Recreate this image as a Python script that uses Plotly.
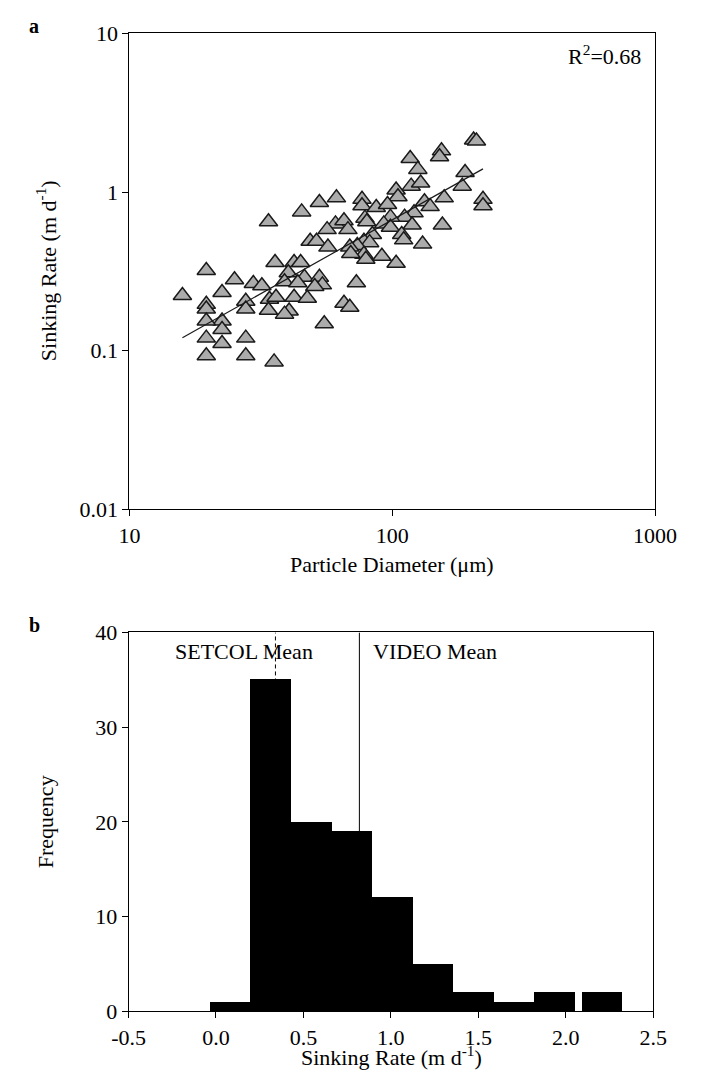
import numpy as np
import plotly.graph_objects as go

# ---------------- Data: panel a (particle diameter vs sinking rate) ----------------
diameter = [61.3, 52.8, 45.2, 33.8, 60.8, 65.5, 56.5, 48.7, 51.5, 56.9,
            35.8, 42.3, 44.8, 19.6, 40.2, 25.1, 29.6, 31.9, 15.9, 22.5,
            38.9, 46.3, 43.7, 52.8, 54.2, 50.7, 34.1, 36.1, 42.3, 47.5,
            19.6, 19.6, 27.7, 27.7, 33.8, 40.5, 38.9, 22.5, 19.6, 22.5,
            55.1, 19.6, 22.5, 27.7, 19.6, 27.7, 35.5, 203.9, 209.0, 117.0,
            153.9, 151.3, 125.1, 189.2, 118.0, 128.2, 184.6, 103.4, 105.1, 157.6,
            221.4, 221.4, 76.7, 76.7, 86.9, 95.9, 132.6, 139.3, 121.0, 111.4,
            98.4, 78.7, 80.0, 67.8, 92.8, 98.4, 119.0, 155.1, 108.6, 110.5,
            84.0, 78.0, 82.0, 73.6, 68.9, 130.4, 78.0, 79.3, 69.5, 91.3,
            103.4, 73.0, 65.5, 68.9]
sink_rate = [0.92, 0.86, 0.75, 0.65, 0.63, 0.66, 0.58, 0.49, 0.49, 0.45,
             0.36, 0.36, 0.36, 0.32, 0.31, 0.28, 0.265, 0.257, 0.223, 0.233,
             0.272, 0.29, 0.268, 0.29, 0.26, 0.254, 0.211, 0.217, 0.217, 0.214,
             0.196, 0.183, 0.205, 0.183, 0.18, 0.178, 0.17, 0.154, 0.154, 0.136,
             0.148, 0.12, 0.111, 0.12, 0.093, 0.093, 0.085, 2.13, 2.10, 1.63,
             1.82, 1.67, 1.39, 1.33, 1.09, 1.14, 1.09, 1.03, 0.935, 0.92,
             0.90, 0.82, 0.90, 0.82, 0.80, 0.835, 0.87, 0.81, 0.74, 0.695,
             0.695, 0.685, 0.65, 0.58, 0.63, 0.60, 0.62, 0.62, 0.54, 0.50,
             0.54, 0.49, 0.48, 0.46, 0.45, 0.47, 0.405, 0.377, 0.41, 0.394,
             0.356, 0.268, 0.199, 0.188]
fit_slope = 0.931       # log10(rate) = intercept + slope * log10(diameter)
fit_intercept = -2.037
r_squared = "0.68"

# ---------------- Data: panel b (histogram of sinking rate) ----------------
bin_left = [-0.038, 0.194, 0.426, 0.658, 0.890, 1.122, 1.354, 1.586, 1.818, 2.088]
bin_right = [0.194, 0.426, 0.658, 0.890, 1.122, 1.354, 1.586, 1.818, 2.050, 2.320]
bin_count = [1, 35, 20, 19, 12, 5, 2, 1, 2, 2]
setcol_mean = 0.34
video_mean = 0.82

x_ticks_a = [10, 100, 1000]
y_ticks_a = [0.01, 0.1, 1, 10]
y_ticktext_a = ["0.01", "0.1", "1", "10"]
x_ticks_b = [-0.5, 0.0, 0.5, 1.0, 1.5, 2.0, 2.5]
y_ticks_b = [0, 10, 20, 30, 40]

# ---------------- Figure ----------------
W, H = 713, 1086
FONT = "Liberation Serif, Times New Roman, serif"
FS = 22


def px(x):
    return x / W


def py(y):
    return 1 - y / H


fig = go.Figure()

fig.add_trace(go.Scatter(
    x=diameter, y=sink_rate, mode="markers",
    marker=dict(symbol="triangle-up", size=16, color="#ababab",
                line=dict(color="#1a1a1a", width=1.5)),
    xaxis="x", yaxis="y", showlegend=False))

d_min, d_max = min(diameter), max(diameter)
fit_x = np.array([d_min, d_max])
fit_y = 10 ** (fit_intercept + fit_slope * np.log10(fit_x))
fig.add_trace(go.Scatter(
    x=fit_x, y=fit_y, mode="lines", line=dict(color="#1a1a1a", width=1.2),
    xaxis="x", yaxis="y", showlegend=False))

centers = [(l + r) / 2 for l, r in zip(bin_left, bin_right)]
widths = [r - l for l, r in zip(bin_left, bin_right)]
fig.add_trace(go.Bar(
    x=centers, y=bin_count, width=widths,
    marker=dict(color="black", line=dict(width=0)),
    xaxis="x2", yaxis="y2", showlegend=False))

axis_common = dict(showline=True, linecolor="black", linewidth=1, mirror=True,
                   ticks="outside", ticklen=6, tickcolor="black", tickwidth=1,
                   showgrid=False, zeroline=False,
                   tickfont=dict(family=FONT, size=FS, color="black"))

fig.update_layout(
    width=W, height=H,
    margin=dict(l=0, r=0, t=0, b=0),
    paper_bgcolor="white", plot_bgcolor="white",
    font=dict(family=FONT, size=FS, color="black"),
    bargap=0,
    xaxis=dict(type="log", range=[1, 3], domain=[px(119), px(675)],
               tickvals=x_ticks_a, ticktext=[str(v) for v in x_ticks_a],
               anchor="y", **axis_common),
    yaxis=dict(type="log", range=[-2, 1], domain=[py(509), py(22)],
               tickvals=y_ticks_a, ticktext=y_ticktext_a,
               anchor="x", **axis_common),
    xaxis2=dict(range=[-0.5, 2.5], domain=[px(118), px(673)],
                tickvals=x_ticks_b, ticktext=[f"{v:.1f}" for v in x_ticks_b],
                anchor="y2", **axis_common),
    yaxis2=dict(range=[0, 40], domain=[py(1023), py(635)],
                tickvals=y_ticks_b, anchor="x2", **axis_common),
)

# Mean lines in panel b
fig.add_shape(type="line", xref="x2", yref="y2", x0=setcol_mean, x1=setcol_mean,
              y0=0, y1=40, line=dict(color="black", width=1, dash="4px,3px"))
fig.add_shape(type="line", xref="x2", yref="y2", x0=video_mean, x1=video_mean,
              y0=0, y1=40, line=dict(color="black", width=1))

annotations = [
    dict(text="<b>a</b>", x=px(18), y=py(14), size=20),
    dict(text="<b>b</b>", x=px(18), y=py(627), size=20),
    dict(text="R<sup>2</sup>=" + r_squared, x=px(662), y=py(44), xanchor="right"),
    dict(text="Particle Diameter (μm)", x=px(397), y=py(566)),
    dict(text="Sinking Rate (m d<sup>-1</sup>)", x=px(31), y=py(265), textangle=-90),
    dict(text="SETCOL Mean", x=px(165), y=py(655), xanchor="left"),
    dict(text="VIDEO Mean", x=px(374), y=py(655), xanchor="left"),
    dict(text="Frequency", x=px(31), y=py(829), textangle=-90),
    dict(text="Sinking Rate (m d<sup>-1</sup>)", x=px(396), y=py(1085), yanchor="bottom"),
]
for a in annotations:
    a.setdefault("xanchor", "center")
    a.setdefault("yanchor", "middle")
    size = a.pop("size", FS)
    fig.add_annotation(xref="paper", yref="paper", showarrow=False,
                       font=dict(family=FONT, size=size, color="black"), **a)

# Remove the browser's default 8px body margin so the figure fills the window.
fig.write_html("out.html", config={"displayModeBar": False},
               post_script="document.body.style.margin='0px';")
